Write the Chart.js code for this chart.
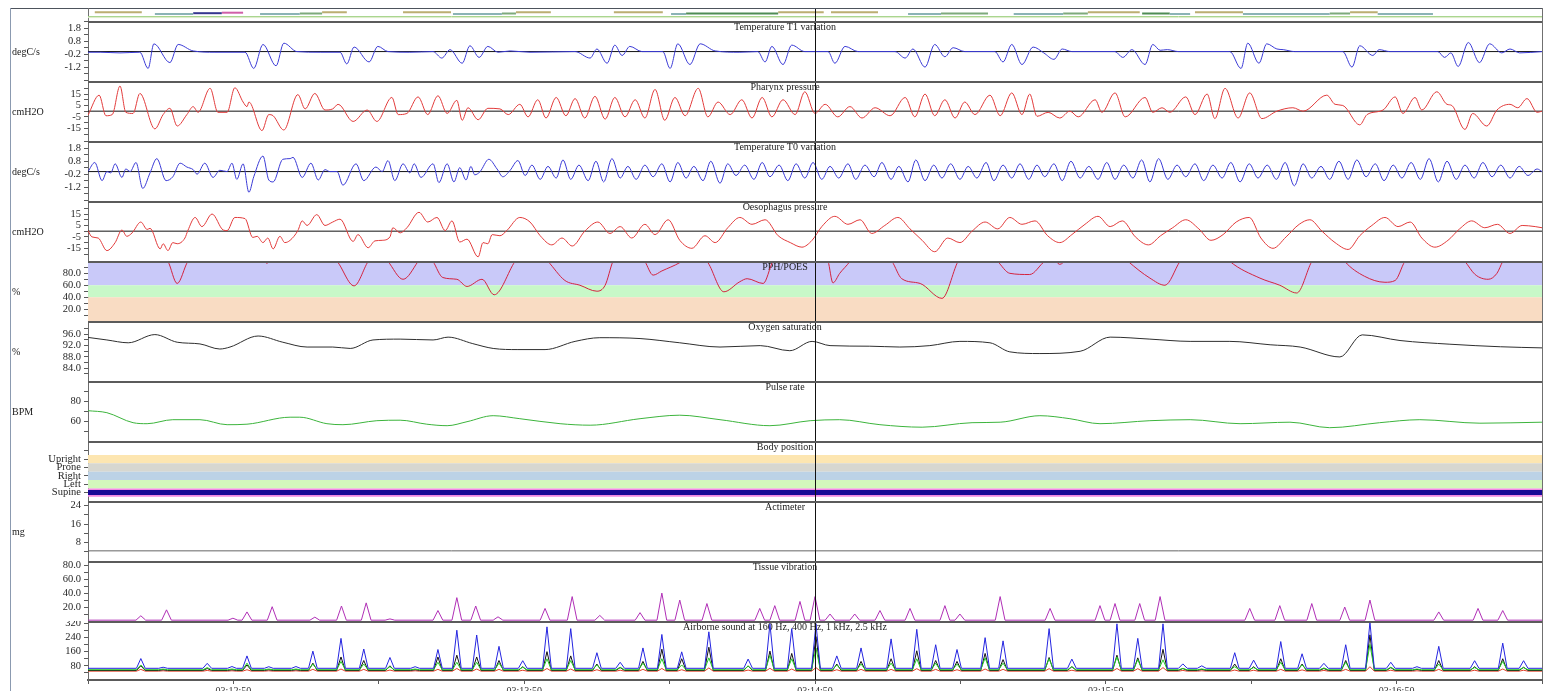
<!DOCTYPE html>
<html>
<head>
<meta charset="utf-8">
<script src="https://cdn.jsdelivr.net/npm/chart.js@4/dist/chart.umd.min.js"></script>
<style>
  html, body { margin: 0; padding: 0; background: #fff; width: 1547px; height: 691px; overflow: hidden; }
  canvas { position: absolute; left: 0; }
  .rule { position: absolute; }
</style>
</head>
<body>
<div class="rule" style="left:10px;top:8px;width:1533px;height:1px;background:#4d535c"></div>
<div class="rule" style="left:10px;top:8px;width:1px;height:683px;background:#8b9ab0"></div>
<div class="rule" style="left:1542px;top:8px;width:1px;height:672px;background:#707070"></div>
<div class="rule" style="left:88px;top:8px;width:1px;height:13px;background:#707070"></div>
<script>
// ---- time window: seconds after 03:12:20, 5 minutes shown ----
const clockStart = 3 * 3600 + 12 * 60 + 20;
const windowSpan = 300;
const cursorTime = 150;            // 03:14:50

// ---- top event strip: [start, end] in seconds ----
const eventKhaki = [[1.4,11.1],[48.3,53.4],[65.0,74.9],[88.3,95.5],[108.5,118.6],[142.4,151.8],[153.3,163.0],[206.3,217.0],[228.4,238.3],[260.4,266.1]];
const eventTeal = [[13.8,21.7],[35.5,43.7],[75.3,85.4],[120.3,123.4],[169.2,176.0],[191.0,201.2],[223.2,227.4],[238.3,256.2],[266.1,277.5]];
const eventGreen = [[43.7,48.3],[85.4,88.3],[176.0,185.7],[201.2,206.3],[256.2,260.4]];
const eventDarkGreen = [[123.4,142.4],[217.5,223.2]];
const eventNavy = [[21.7,27.6]];
const eventMagenta = [[27.6,32.0]];

// ---- tick values / labels ----
const tempTicks = [-2.2,-1.7,-1.2,-0.7,-0.2,0.3,0.8,1.3,1.8,2.3];
const tempTickLabels = {'-1.2':'-1.2','-0.2':'-0.2','0.8':'0.8','1.8':'1.8'};
const pressTicks = [-20,-15,-10,-5,0,5,10,15,20];
const pressTickLabels = {'-15':'-15','-5':'-5','5':'5','15':'15'};
const ratioTicks = [10,20,30,40,50,60,70,80,90];
const ratioTickLabels = {'20':'20.0','40':'40.0','60':'60.0','80':'80.0'};
const spo2Ticks = [82,84,86,88,90,92,94,96,98];
const spo2TickLabels = {'84':'84.0','88':'88.0','92':'92.0','96':'96.0'};
const pulseTicks = [50,60,70,80,90];
const pulseTickLabels = {'60':'60','80':'80'};
const positionTicks = [0,1,2,3,4,5];
const positionLabels = ['Supine','Left','Right','Prone','Upright'];
const actTicks = [4,8,12,16,20,24];
const actTickLabels = {'8':'8','16':'16','24':'24'};
const vibTicks = [10,20,30,40,50,60,70,80];
const vibTickLabels = {'20':'20.0','40':'40.0','60':'60.0','80':'80.0'};
const soundTicks = [40,80,120,160,200,240,280,320];
const soundTickLabels = {'80':'80','160':'160','240':'240','320':'320'};

// ---- Temperature T1 variation (degC/s): [t, value] ----
const t1Trace = [[0,-0.05],[2.5,-0.05],[6.6,-0.1],[10.7,-0.05],[12.4,-1.3],[13.6,0.6],[16.9,-0.85],[18.6,0.55],[21.7,0.05],[26.2,-0.05],[32.4,-0.05],[34.2,-1.3],[36.1,0.55],[38.8,-1.1],[40.4,0.65],[43.1,0],[47.9,-0.05],[52.0,-0.05],[53.4,-0.95],[54.9,0.35],[58.0,-0.8],[59.8,0.4],[61.9,0],[66.4,-0.05],[71.2,0],[73.0,-0.5],[74.7,0.15],[77.2,-0.9],[78.8,0.45],[80.7,-0.45],[82.5,0.4],[84.6,-0.05],[87.1,0.05],[91.2,-0.05],[100.5,0],[103.6,-0.5],[105.0,0.2],[107.1,-0.9],[108.7,0.5],[110.2,-0.3],[111.8,0.4],[114.3,0],[118.6,0],[120.1,-1.3],[121.7,0.6],[124.2,-1.0],[126.3,0.6],[129.4,0.05],[134.5,-0.05],[138.2,0],[139.7,-0.8],[141.1,0.4],[143.4,-1.0],[145.2,0.5],[147.9,0],[152.7,0],[154.1,-0.9],[156.2,0.4],[158.9,0],[166.5,0],[168.6,-0.5],[170.2,0.2],[172.7,-1.2],[174.7,0.55],[176.8,-0.4],[178.5,0.3],[180.9,0],[187.1,0],[188.8,-0.8],[190.6,0.55],[192.7,-1.0],[195.0,0.35],[197.2,-0.1],[199.3,-0.6],[201.0,0.2],[203.0,0],[211.9,0],[213.5,-0.45],[215.4,0.15],[218.1,-1.0],[219.7,0.55],[221.2,0.1],[222.7,0.15],[225.0,0],[235.6,0],[237.9,-1.3],[239.3,0.65],[241.6,-0.9],[243.2,0.6],[245.3,0.2],[246.6,0.15],[249.0,0],[258.9,0],[260.8,-1.2],[262.4,0.45],[265.1,-0.3],[266.4,0.15],[268.6,0],[278.5,0],[279.9,-0.45],[281.2,-0.1],[282.7,-1.15],[284.8,0.7],[287.1,-0.85],[289.2,0.6],[291.7,-0.1],[293.4,0.2],[295.4,-0.1],[300,0]];

// ---- Pharynx pressure (cmH2O) ----
const pharynxTrace = [[0,-3.5],[2.3,14],[3.7,-4],[5.0,-3],[6.6,22],[7.8,-1],[9.3,-2],[10.7,15.5],[13.8,-15.5],[15.5,-3],[16.9,2.5],[18.4,-13],[20.4,-3],[21.7,4],[22.7,-1],[25.2,20],[26.8,-1],[28.7,-1],[30.3,20.5],[32.0,8],[32.8,4],[33.2,8],[35.9,-17],[37.3,-3],[38.2,-4],[40.4,-16.5],[43.3,14.5],[44.8,2],[46.8,15.5],[48.9,1],[50.5,2],[51.6,6],[54.7,-9],[57.6,1],[59.6,-9],[62.7,12],[64.0,-3],[65.8,-2],[68.1,12.5],[70.1,-3],[72.2,13.5],[74.1,-2],[76.1,9.5],[77.2,-8],[78.4,3],[80.5,-7.5],[82.5,2.5],[85.0,2],[86.7,-3],[89.1,6],[90.8,-5],[92.8,10],[94.5,-6],[96.6,12],[98.6,-4],[100.5,11],[102.5,-6],[104.6,13],[106.7,-7],[108.7,12],[110.8,-5],[112.9,10],[114.9,-6],[117.0,19],[119.0,-8],[121.1,12],[123.2,-4],[125.9,20],[127.9,-5],[130.0,8],[132.5,-3],[134.9,10],[137.0,-6],[139.1,12],[141.1,-5],[143.4,10],[145.9,-3],[147.9,17],[150.0,-2],[152.1,6],[154.7,-5],[157.2,4],[159.7,-6],[162.4,3],[165.5,-4],[168.6,12],[170.6,-5],[172.7,15],[174.7,-4],[176.8,10],[178.9,-6],[180.9,8],[183.0,-3],[186.1,14],[188.2,-4],[190.6,16],[192.7,-3],[194.3,15],[195.8,-4.5],[198.1,-1],[200.5,-6],[202.6,0],[204.3,-5],[207.8,10],[209.2,-1],[211.9,16],[214.0,-5],[218.1,12],[219.7,-1],[221.6,3],[223.2,-1],[226.5,12.5],[228.4,-3],[230.9,15],[232.5,-6.5],[234.6,20],[237.3,-6],[239.7,16],[242.2,-6.5],[245.3,0],[248.6,3],[250.7,0],[255.6,14],[257.3,6],[258.9,5],[262.4,-12],[263.9,-3],[267.2,1],[269.7,12.5],[271.3,-2],[273.8,12],[275.2,1],[278.3,17],[280.4,6],[281.4,5],[284.1,-16],[285.7,-2],[288.6,-13],[290.7,1],[293.4,6],[295.0,3],[296.9,11],[299.0,-1],[300,0]];

// ---- Temperature T0 variation (degC/s) ----
const t0Trace = [[0,0],[1.4,0.7],[2.9,-0.7],[3.9,0],[4.7,-0.1],[5.6,0.6],[7.0,-0.45],[7.8,0.2],[8.7,0],[9.9,0.7],[11.3,-1.3],[12.8,-0.1],[14.2,1.0],[16.1,-0.7],[17.5,-0.4],[19.0,0.65],[20.4,0.35],[21.7,0.15],[22.5,-0.2],[24.1,0.65],[25.8,-0.45],[27.2,0.1],[28.7,0],[29.7,0.65],[30.7,-0.6],[32.0,0.6],[33.2,-1.6],[34.2,-0.4],[36.1,1.2],[37.3,-0.65],[38.2,-0.8],[40.2,0.95],[41.7,1.0],[42.3,1.1],[44.2,-0.45],[46.0,0.65],[47.5,-0.65],[48.9,0.15],[49.9,0],[51.4,0],[52.6,-1.05],[55.3,0.6],[56.9,-0.7],[59.4,0.35],[60.7,0],[61.9,0.85],[63.3,-0.7],[65.0,0.6],[66.4,-0.1],[67.3,0.6],[68.7,-0.45],[71.2,0.6],[72.4,-0.85],[74.1,0.6],[75.5,-0.8],[76.7,0.3],[78.0,-0.65],[79.0,0.4],[79.8,-0.25],[80.9,0],[82.7,0.95],[84.4,0.2],[85.6,-0.4],[87.1,0.1],[88.7,0.85],[90.2,-0.3],[91.6,0.5],[93.3,-0.6],[94.9,0.4],[96.6,-0.5],[98.0,0.9],[99.6,-0.6],[101.3,0.5],[103.2,-0.7],[104.8,0.8],[106.4,-0.8],[108.1,1.0],[109.8,-0.5],[111.4,0.4],[113.1,-0.6],[114.9,0.5],[116.6,-0.4],[118.4,0.6],[120.1,-0.8],[121.7,0.7],[123.4,-0.5],[125.0,0.4],[126.9,-0.7],[128.5,0.8],[130.4,-0.9],[132.0,0.6],[133.7,-0.3],[135.5,0.5],[137.4,-0.6],[139.1,0.7],[140.7,-0.4],[142.6,0.5],[144.4,-0.7],[146.1,0.6],[147.9,-0.5],[149.6,0.7],[151.4,-0.6],[153.1,0.4],[154.9,-0.5],[156.8,0.6],[158.4,-0.6],[160.3,0.5],[162.2,-0.4],[163.8,0.7],[165.7,-0.6],[167.3,0.4],[169.2,-0.8],[170.8,0.9],[172.7,-0.7],[174.5,0.5],[176.2,-0.5],[178.0,0.6],[179.9,-0.6],[181.6,0.4],[183.4,-0.5],[185.3,0.7],[186.9,-0.7],[188.8,0.5],[190.6,-0.5],[192.3,0.6],[194.1,-0.6],[195.8,0.5],[197.4,-0.4],[199.3,0.6],[201.0,-0.7],[202.8,0.8],[204.7,-0.5],[206.5,0.4],[208.4,-0.6],[210.2,0.7],[211.9,-0.6],[213.7,0.5],[215.6,-0.5],[217.4,0.9],[219.1,-0.8],[220.9,1.0],[222.8,-0.6],[224.7,0.5],[226.5,-0.4],[228.4,0.6],[230.2,-0.7],[232.1,0.5],[234.0,-0.5],[235.8,0.7],[237.7,-0.8],[239.6,0.6],[241.4,-0.5],[243.3,0.5],[245.2,-0.6],[247.0,0.7],[248.9,-1.1],[250.7,0.6],[252.5,-0.5],[254.4,0.4],[256.2,-0.6],[258.1,0.8],[260.0,-0.6],[261.8,0.9],[263.7,-0.4],[265.6,0.6],[267.4,-0.7],[269.3,0.5],[271.1,-0.5],[273.0,0.7],[274.9,-0.6],[276.7,1.0],[278.6,-0.8],[280.4,0.8],[282.3,-0.6],[284.1,0.5],[286.0,-0.5],[287.8,0.7],[289.7,-0.4],[291.5,0.5],[293.4,-0.5],[295.3,0.4],[297.1,-0.3],[299.0,0.2],[300,0]];

// ---- Oesophagus pressure (cmH2O) ----
const oesoTrace = [[0,0.5],[0.8,-5],[2.1,-6],[3.9,-17],[5.6,-10],[7.0,1],[8.0,-4.5],[9.1,-1.5],[10.9,8],[12.2,1.5],[12.8,2.5],[14.9,-15.5],[15.5,-11],[16.5,-17],[17.5,-10],[18.4,-11],[20.0,-6],[20.6,0.5],[22.1,12],[23.5,4],[25.6,15],[27.9,1],[28.7,0.5],[30.3,12],[32.4,11],[34.0,-5.5],[34.9,-4.5],[36.1,-10],[37.1,-6],[38.2,-15.5],[39.6,-4.5],[40.6,-10],[41.7,-8],[43.3,0.5],[44.2,9],[45.2,5],[47.2,14.5],[48.9,5],[50.5,8],[52.0,10.5],[54.7,-9],[55.7,-3],[57.8,-14.5],[59.2,-8.5],[60.7,-8],[62.3,-5],[62.9,3],[64.4,-1.5],[65.8,3],[68.3,16.5],[70.1,8],[72.0,12],[73.7,0.5],[75.1,9],[76.7,-9.5],[78.2,-7],[80.5,-22.5],[81.5,-10],[82.5,-11],[83.4,-3],[85.0,-4],[86.4,0.5],[89.1,12],[91.2,8],[93.3,-4],[95.7,-12],[97.8,-6],[99.9,-13],[102.5,0],[105.2,8],[107.7,-2],[109.8,4],[112.2,-6],[114.9,6],[117.0,-3],[119.7,10],[122.1,-8],[124.6,-15],[127.3,-4],[129.4,-10],[132.0,3],[134.5,12],[137.0,6],[139.7,10],[142.4,-4],[144.9,-10],[147.3,-14],[149.4,-8],[151.4,4],[154.1,13],[156.8,6],[159.3,10],[161.7,-2],[164.4,5],[167.1,12],[169.6,2],[172.1,-8],[174.7,-18],[177.4,-6],[179.9,-10],[182.4,0],[185.1,8],[187.7,2],[190.2,12],[192.7,6],[195.4,9],[198.0,-4],[200.5,-10],[203.0,-3],[205.7,6],[208.4,13],[210.9,4],[213.4,9],[216.1,-5],[218.8,-12],[221.3,-4],[223.8,3],[226.5,10],[229.2,2],[231.7,-8],[234.2,-3],[236.9,8],[239.6,12],[242.0,-6],[244.5,-15],[247.2,-5],[249.9,6],[252.1,10],[254.6,0],[257.3,-10],[260.0,-16],[262.4,-4],[264.9,5],[267.6,12],[270.3,4],[272.8,8],[275.2,-6],[277.9,-14],[280.6,-8],[283.0,2],[285.5,9],[288.2,3],[290.8,6],[293.4,-2],[295.9,5],[298.6,4],[300,3]];

// ---- PPH/POES (%), values above 100 run off the top of the panel ----
const pphBandEdges = [0, 40, 60, 100];
const pphBandColors = ['#f9dcc3', '#c8f8c8', '#c9c9f9'];
const pphTrace = [[0,150],[10,150],[16.5,100],[18.4,63],[20.6,100],[28,150],[36.3,101],[36.9,97],[37.5,101],[44,150],[51.4,100],[54.9,59],[57.8,100],[59.8,120],[61.9,100],[65.0,70],[68.1,100],[69.6,120],[71.2,100],[73.2,73],[76.1,70],[78.2,58],[81.3,70],[83.8,44],[88.1,100],[91,130],[94.9,100],[98.4,68],[101.5,60],[105.0,50],[106.7,60],[108.3,100],[111.5,140],[114.9,100],[116.6,77],[118.4,84],[122.1,98],[124.2,110],[127.7,100],[131.2,49],[134.5,66],[136.0,71],[139.3,63],[141.3,100],[147,150],[152.7,100],[153.7,64],[155.1,80],[157.2,100],[161,150],[165.9,100],[167.9,71],[171.7,63],[176.2,38],[179.5,100],[183,140],[187.7,100],[190.2,80],[194.3,78],[197.4,100],[199,105],[200.5,95],[202,105],[208,150],[214.6,100],[219.1,72],[222.2,60],[225.3,100],[230,150],[235.6,100],[241.8,72],[245.9,60],[249.4,47],[252.5,100],[256,140],[259.3,100],[263.4,75],[267.6,65],[269.7,68],[271.7,100],[278,150],[284.1,100],[286.2,78],[288.9,70],[290.7,80],[291.9,100],[296,150],[300,150]];

// ---- Oxygen saturation (%) ----
const spo2Trace = [[0,94.9],[3.9,94.0],[8.3,93.0],[13.8,95.9],[18.4,93.2],[23.1,92.6],[27.2,90.8],[29.3,91.5],[35.1,95.4],[40.2,93.2],[45.2,91.5],[50.5,91.5],[54.1,91.0],[58.8,94.0],[64.4,94.3],[71.2,94.0],[74.3,95.0],[79.4,92.7],[83.6,91.0],[88.7,90.6],[94.3,90.6],[100.5,93.5],[105.6,94.8],[113.9,94.5],[122.1,93.0],[130.4,91.5],[138.7,92.0],[144.8,90.2],[149.4,93.5],[153.1,92.0],[161.3,91.8],[167.5,91.5],[173.7,92.0],[179.9,93.5],[186.1,93.0],[190.2,89.8],[196.4,89.2],[204.7,90.0],[210.9,95.0],[219.1,94.3],[227.4,93.5],[235.6,93.5],[243.9,92.3],[250.1,91.5],[258.3,88.0],[262.9,95.8],[270.7,93.8],[281.0,92.5],[291.4,91.6],[300,91.2]];

// ---- Pulse rate (BPM) ----
const pulseTrace = [[0,71],[3.9,69],[9.3,59],[12.2,58],[17.5,62],[23.1,62],[28.7,57],[32.8,57.5],[41.7,64.5],[43.7,64.5],[49.3,58],[52.6,57],[59.6,61],[64.4,61.5],[69.9,57.5],[74.1,56],[78.2,60],[83.6,66],[89.1,63],[97.4,58],[103.6,56.5],[113.9,63],[122.1,66.5],[130.4,62],[140.7,56],[149.0,61],[155.1,62],[163.4,57],[172.1,54.5],[182.4,59],[188.2,59.5],[196.4,66],[202.6,63],[208.8,58],[219.1,61],[227.4,62],[237.7,58],[248.0,59.5],[256.2,54],[266.5,59],[274.8,62],[287.2,58.5],[300,59.5]];

// ---- Body position (0 = Supine) ----
const positionColors = ['#f28ae2', '#d3f8bc', '#bcd2e6', '#d7d7d0', '#fde6b1'];
const positionTrace = [[0,0],[300,0]];

// ---- Actimeter (mg) ----
const actimeterTrace = [[0,4.4],[300,4.4]];

// ---- Tissue vibration: spike times (s) and peak levels ----
const vibBase = 1.2;
const vibTimes = [10.9,16.2,29.9,32.8,38.0,46.8,52.3,57.4,62.3,72.2,76.1,80.0,84.6,94.3,99.9,105.6,113.9,118.4,122.1,127.7,138.6,141.7,146.9,150.0,153.1,158.2,163.4,169.6,176.8,179.9,188.2,198.5,208.8,211.9,217.0,221.2,239.7,245.9,252.5,259.3,264.5,278.7,286.8,291.9];
const vibPeaks = [7.5,16,4,13,20.5,5.5,21.5,26,3,15,33.5,21.5,6,18,35,8,12,40,30,25,18,22,28,35,10,10,15,18,22,10,35,18,22,25,25,35,18,22,25,20,30,13,18,15];

// ---- Airborne sound at 160 Hz, 400 Hz, 1 kHz, 2.5 kHz ----
const soundBase = {blue: 66, green: 58, black: 54, red: 50};
const soundTimes = [10.9,15.5,24.6,29.7,32.8,37.3,42.9,46.4,52.2,56.9,62.3,67.5,72.2,76.1,80.2,84.8,89.7,94.7,99.6,105.0,109.8,114.5,118.4,122.5,128.1,136.2,140.7,145.2,150.2,154.5,159.5,165.7,171.0,174.9,179.3,185.1,188.8,198.3,203.0,212.3,216.6,221.8,225.9,229.8,236.6,240.5,246.1,250.5,255.0,259.5,264.5,268.8,274.2,278.7,286.1,291.9,296.2];
const soundBlue = [121,72,94,76,136,75,76,163,235,175,127,75,172,281,254,190,109,300,290,154,100,181,257,159,272,118,317,290,317,136,181,232,286,199,172,239,221,290,118,317,235,317,91,80,154,112,217,148,94,199,326,100,75,190,109,208,109];
const soundBlack = [80,58,65,58,85,58,58,95,130,110,80,58,130,140,130,110,75,160,136,90,70,105,174,120,185,80,163,150,245,90,105,120,165,110,105,150,115,127,75,140,125,173,65,60,90,75,120,90,65,110,255,70,60,110,75,120,72];
const soundGreen = [85,62,70,62,95,62,62,90,105,90,75,62,100,100,100,95,72,120,110,85,72,95,120,85,125,78,140,120,180,85,90,95,120,95,90,125,95,120,75,130,115,114,65,62,75,70,100,85,68,100,201,72,62,90,70,105,70];
const soundRed = [60,52,54,52,58,52,52,60,62,60,56,52,60,65,62,60,55,65,62,58,55,60,65,58,68,56,66,62,70,58,60,60,64,60,58,62,60,64,55,65,64,70,54,52,56,55,60,57,54,60,75,55,52,60,55,62,55];

// ---------------------------------------------------------------
const W = 1547, PLOT_LEFT = 88, PLOT_RIGHT = 1542;
const PANEL_TOP = 21, PANEL_H = 60, TITLE_X = 785;
const SERIF = '"Liberation Serif", "Times New Roman", serif';
Chart.defaults.font.family = SERIF;
Chart.defaults.color = '#222';

const pts = arr => arr.map(([x, y]) => ({x, y}));
const level = y => [{x: 0, y}, {x: windowSpan, y}];

function spikes(base, times, peaks, half) {
  const out = [{x: 0, y: base}];
  times.forEach((t, i) => {
    out.push({x: t - half, y: base}, {x: t, y: peaks[i]}, {x: t + half, y: base});
  });
  out.push({x: windowSpan, y: base});
  return out;
}

function segments(list, y) {
  const out = [];
  list.forEach(([s, e]) => { out.push({x: s, y}, {x: e, y}, {x: e, y: null}); });
  return out;
}

function trace(data, color, extra) {
  return Object.assign({
    data, borderColor: color, borderWidth: 1, pointRadius: 0, fill: false,
    cubicInterpolationMode: 'monotone', order: 0
  }, extra || {});
}
// straight segments for spiky channels
const sharp = (data, color) => trace(data, color, {cubicInterpolationMode: 'default', tension: 0});
const zeroLine = () => trace(level(0), '#111', {order: 1});
const band = (lo, hi, color) => ({
  data: level(hi), fill: {value: lo}, backgroundColor: color,
  borderWidth: 0, pointRadius: 0, order: 10
});

function yAxis(min, max, tickVals, labelOf) {
  return {
    type: 'linear', min, max,
    afterBuildTicks: s => { s.ticks = tickVals.map(v => ({value: v})); },
    afterFit: s => { s.width = PLOT_LEFT; s.paddingTop = 0; s.paddingBottom = 0; },
    ticks: {
      autoSkip: false, padding: 3, color: '#262626',
      font: {family: SERIF, size: 10.5},
      callback: v => labelOf(v)
    },
    grid: {drawOnChartArea: false, tickLength: 4, color: '#5a5a5a'},
    border: {display: true, color: '#6a6a6a', width: 1}
  };
}
const fromMap = map => v => { const k = String(Math.round(v * 10) / 10); return map[k] || ''; };

function hhmmss(sec) {
  const h = Math.floor(sec / 3600), m = Math.floor(sec / 60) % 60, s = sec % 60;
  return [h, m, s].map(n => String(n).padStart(2, '0')).join(':');
}

function decor(cfg) {
  const drawTitle = chart => {
    if (!cfg.title) return;
    const {ctx, chartArea: a} = chart;
    ctx.save();
    ctx.font = '10px ' + SERIF; ctx.fillStyle = '#1a1a1a';
    ctx.textAlign = 'center'; ctx.textBaseline = 'middle';
    ctx.fillText(cfg.title, TITLE_X, a.top + 6.5);
    ctx.restore();
  };
  return {
    id: 'decor',
    beforeDatasetsDraw(chart) { if (cfg.titleAfter == null) drawTitle(chart); },
    afterDatasetDraw(chart, args) { if (cfg.titleAfter === args.index) drawTitle(chart); },
    afterDatasetsDraw(chart) {
      const {ctx, chartArea: a, scales: {x}} = chart;
      ctx.save();
      const cx = Math.round(x.getPixelForValue(cursorTime)) + 0.5;
      ctx.strokeStyle = '#111'; ctx.lineWidth = 1;
      ctx.beginPath(); ctx.moveTo(cx, a.top); ctx.lineTo(cx, a.bottom); ctx.stroke();
      if (cfg.separator !== false) {
        ctx.fillStyle = '#5b5b5b';
        ctx.fillRect(a.left, a.top, a.right - a.left, 2);
      }
      ctx.restore();
    },
    afterDraw(chart) {
      if (!cfg.unit) return;
      const {ctx, chartArea: a} = chart;
      ctx.save();
      ctx.font = '10px ' + SERIF; ctx.fillStyle = '#1a1a1a';
      ctx.textAlign = 'left'; ctx.textBaseline = 'middle';
      ctx.fillText(cfg.unit, 12, (a.top + a.bottom) / 2 + 1);
      ctx.restore();
    }
  };
}

function makeChart(top, height, cfg) {
  const c = document.createElement('canvas');
  c.width = W; c.height = height; c.style.top = top + 'px';
  document.body.appendChild(c);
  const xScale = cfg.x || {type: 'linear', min: 0, max: windowSpan, display: false};
  return new Chart(c.getContext('2d'), {
    type: 'line',
    data: {datasets: cfg.datasets},
    options: {
      responsive: false, animation: false, devicePixelRatio: 1, events: [],
      layout: {padding: {left: cfg.padLeft || 0, right: W - PLOT_RIGHT, top: 0, bottom: 0}},
      elements: {line: {tension: 0}},
      plugins: {legend: {display: false}, tooltip: {enabled: false}},
      scales: {x: xScale, y: cfg.y}
    },
    plugins: [decor(cfg)]
  });
}

// ---- event strip ----
makeChart(9, 12, {
  padLeft: PLOT_LEFT, separator: false,
  y: {display: false, min: 0, max: 12},
  datasets: [
    sharp(level(4.5), '#a9d68f'),
    sharp(level(3.4), '#dcebc8'),
    trace(segments(eventKhaki, 8.7), '#bcae72', {borderWidth: 2, spanGaps: false}),
    trace(segments(eventTeal, 7.0), '#8bb3b6', {borderWidth: 2, spanGaps: false}),
    trace(segments(eventGreen, 7.6), '#7eaa7c', {borderWidth: 2, spanGaps: false}),
    trace(segments(eventDarkGreen, 7.6), '#4f8c55', {borderWidth: 2, spanGaps: false}),
    trace(segments(eventNavy, 7.8), '#35358f', {borderWidth: 2, spanGaps: false}),
    trace(segments(eventMagenta, 8.3), '#d060a8', {borderWidth: 2, spanGaps: false})
  ]
});

const panelTop = i => PANEL_TOP + PANEL_H * i;
const tempAxis = () => yAxis(-2.27, 2.36, tempTicks, fromMap(tempTickLabels));
const pressAxis = () => yAxis(-26.1, 26.4, pressTicks, fromMap(pressTickLabels));

makeChart(panelTop(0), PANEL_H, {
  title: 'Temperature T1 variation', unit: 'degC/s', y: tempAxis(),
  datasets: [zeroLine(), trace(pts(t1Trace), '#3b3bd6')]
});
makeChart(panelTop(1), PANEL_H, {
  title: 'Pharynx pressure', unit: 'cmH2O', y: pressAxis(),
  datasets: [zeroLine(), trace(pts(pharynxTrace), '#e23b3b')]
});
makeChart(panelTop(2), PANEL_H, {
  title: 'Temperature T0 variation', unit: 'degC/s', y: tempAxis(),
  datasets: [zeroLine(), trace(pts(t0Trace), '#3b3bd6')]
});
makeChart(panelTop(3), PANEL_H, {
  title: 'Oesophagus pressure', unit: 'cmH2O', y: pressAxis(),
  datasets: [zeroLine(), trace(pts(oesoTrace), '#e23b3b')]
});
makeChart(panelTop(4), PANEL_H, {
  title: 'PPH/POES', unit: '%', titleAfter: 2,
  y: yAxis(0, 100.7, ratioTicks, fromMap(ratioTickLabels)),
  datasets: [
    band(pphBandEdges[0], pphBandEdges[1], pphBandColors[0]),
    band(pphBandEdges[1], pphBandEdges[2], pphBandColors[1]),
    band(pphBandEdges[2], pphBandEdges[3], pphBandColors[2]),
    trace(pts(pphTrace), '#d4233f')
  ]
});
makeChart(panelTop(5), PANEL_H, {
  title: 'Oxygen saturation', unit: '%',
  y: yAxis(79.5, 100.7, spo2Ticks, fromMap(spo2TickLabels)),
  datasets: [trace(pts(spo2Trace), '#2e2e2e')]
});
makeChart(panelTop(6), PANEL_H, {
  title: 'Pulse rate', unit: 'BPM',
  y: yAxis(40.7, 100.7, pulseTicks, fromMap(pulseTickLabels)),
  datasets: [trace(pts(pulseTrace), '#3cb43c')]
});
makeChart(panelTop(7), PANEL_H, {
  title: 'Body position', titleAfter: 4,
  y: yAxis(-1, 6.16, positionTicks, v => positionLabels[Math.round(v)] || ''),
  datasets: positionLabels.map((_, i) => band(i - 0.5, i + 0.5, positionColors[i]))
    .concat([sharp(pts(positionTrace), '#1a0a96')]).map((d, i) => (i === 5 ? Object.assign(d, {borderWidth: 5}) : d))
});
makeChart(panelTop(8), PANEL_H, {
  title: 'Actimeter', unit: 'mg',
  y: yAxis(0, 26, actTicks, fromMap(actTickLabels)),
  datasets: [sharp(pts(actimeterTrace), '#666666')]
});
makeChart(panelTop(9), PANEL_H, {
  title: 'Tissue vibration',
  y: yAxis(0, 86, vibTicks, fromMap(vibTickLabels)),
  datasets: [sharp(spikes(vibBase, vibTimes, vibPeaks, 1.0), '#b02fb6')]
});
makeChart(panelTop(10), PANEL_H + 10, {
  title: 'Airborne sound at 160 Hz, 400 Hz, 1 kHz, 2.5 kHz',
  y: yAxis(0, 333, soundTicks, fromMap(soundTickLabels)),
  x: {
    type: 'linear', min: 0, max: windowSpan, display: true,
    afterFit: s => { s.height = 11; s.paddingLeft = 0; s.paddingRight = 0; },
    ticks: {
      stepSize: 30, autoSkip: false, maxRotation: 0, padding: 1, color: '#333',
      font: {family: SERIF, size: 10},
      callback: v => ((v - 30) % 60 === 0 ? hhmmss(clockStart + v) : '')
    },
    grid: {drawOnChartArea: false, tickLength: 4, color: '#5a5a5a'},
    border: {display: true, color: '#5a5a5a', width: 2}
  },
  datasets: [
    sharp(spikes(soundBase.blue, soundTimes, soundBlue, 0.9), '#2424e0'),
    sharp(spikes(soundBase.green, soundTimes, soundGreen, 0.9), '#22cc22'),
    sharp(spikes(soundBase.black, soundTimes, soundBlack, 0.9), '#141414'),
    sharp(spikes(soundBase.red, soundTimes, soundRed, 0.9), '#e0402a')
  ]
});
</script>
</body>
</html>
